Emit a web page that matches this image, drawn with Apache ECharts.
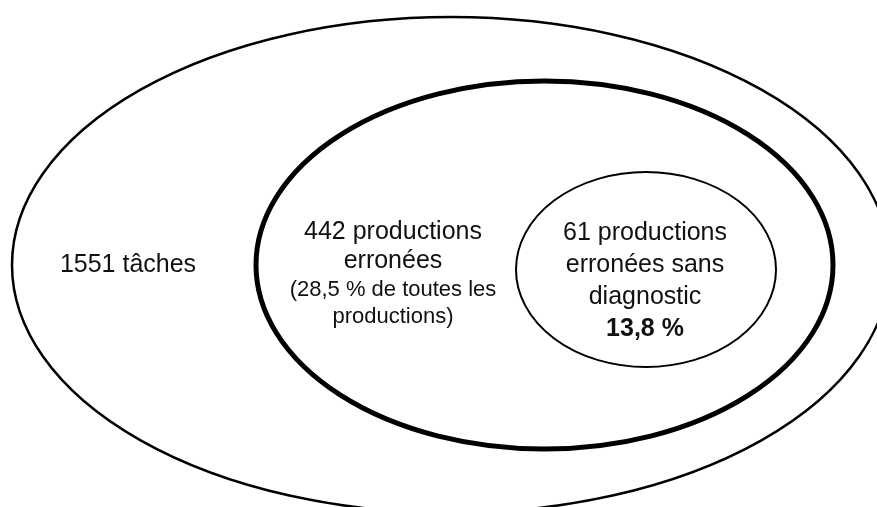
<!DOCTYPE html>
<html>
<head>
<meta charset="utf-8">
<script src="https://cdn.jsdelivr.net/npm/echarts@6/dist/echarts.min.js"></script>
<style>html,body{margin:0;padding:0;background:#fff}#chart{width:877px;height:507px}</style>
</head>
<body>
<div id="chart"></div>
<script>
// Sets (outer -> inner)
const setKeys = ['taches', 'erronees', 'sansDiagnostic'];
const counts = [1551, 442, 61];
const shares = [null, '28,5 %', '13,8 %'];
// Ellipse extent in diagram units: centre x, centre y, radius x, radius y
const ellipseCx = [451, 544.5, 646];
const ellipseCy = [265, 265, 269.5];
const ellipseRx = [439, 288.5, 130];
const ellipseRy = [248, 184, 97.5];
// Label anchor in diagram units
const labelX = [128, 393, 645];
const labelY = [265, 274, 281];

const strokeWidths = [2.5, 5, 2];
const labelTexts = [
  counts[0] + ' tâches',
  '{b|' + counts[1] + ' productions}\n{b|erronées}\n{s|(' + shares[1] + ' de toutes les}\n{s|productions)}',
  '{c|' + counts[2] + ' productions}\n{c|erronées sans}\n{c|diagnostic}\n{cb|' + shares[2] + '}'
];

const data = setKeys.map((k, i) => [ellipseCx[i], ellipseCy[i], ellipseRx[i], ellipseRy[i], labelX[i], labelY[i]]);

const chart = echarts.init(document.getElementById('chart'), null, {renderer: 'canvas'});
const FONT = '"Liberation Sans", Arial, Helvetica, sans-serif';
chart.setOption({
  backgroundColor: '#ffffff',
  animation: false,
  grid: {left: 0, right: 0, top: 0, bottom: 0},
  xAxis: {type: 'value', min: 0, max: 877, show: false},
  yAxis: {type: 'value', min: 0, max: 507, inverse: true, show: false},
  series: [{
    type: 'custom',
    coordinateSystem: 'cartesian2d',
    clip: false,
    data: data,
    renderItem: function (params, api) {
      const i = params.dataIndex;
      const c = api.coord([api.value(0), api.value(1)]);
      const o = api.coord([0, 0]);
      const e = api.coord([api.value(2), api.value(3)]);
      const rx = Math.abs(e[0] - o[0]);
      const ry = Math.abs(e[1] - o[1]);
      const lp = api.coord([api.value(4), api.value(5)]);
      const d = 'M' + (c[0] - rx) + ' ' + c[1] +
        ' A' + rx + ' ' + ry + ' 0 1 0 ' + (c[0] + rx) + ' ' + c[1] +
        ' A' + rx + ' ' + ry + ' 0 1 0 ' + (c[0] - rx) + ' ' + c[1] + ' Z';
      return {
        type: 'group',
        children: [
          {type: 'path', shape: {pathData: d}, style: {fill: 'none', stroke: '#000', lineWidth: strokeWidths[i]}},
          {type: 'text', style: {
            x: lp[0], y: lp[1], text: labelTexts[i], align: 'center', verticalAlign: 'middle',
            fill: '#111', font: '25px ' + FONT,
            rich: {
              b: {fontSize: 25, lineHeight: 29, fontFamily: FONT, fill: '#111', align: 'center'},
              s: {fontSize: 22, lineHeight: 27, fontFamily: FONT, fill: '#111', align: 'center'},
              c: {fontSize: 25, lineHeight: 32, fontFamily: FONT, fill: '#111', align: 'center'},
              cb: {fontSize: 25, lineHeight: 32, fontFamily: FONT, fontWeight: 'bold', fill: '#111', align: 'center'}
            }
          }}
        ]
      };
    }
  }]
});
</script>
</body>
</html>
